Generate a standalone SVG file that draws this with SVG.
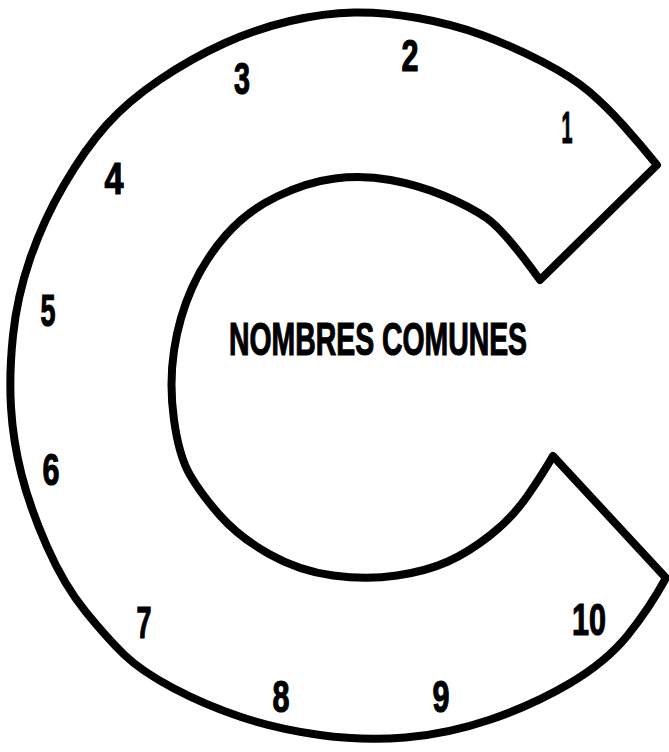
<svg xmlns="http://www.w3.org/2000/svg" width="669" height="752" viewBox="0 0 669 752">
<style>
.c{fill:#fff;stroke:#000;stroke-width:8;stroke-linejoin:round;stroke-linecap:round}
.n{font-family:"Liberation Sans",Arial,sans-serif;font-weight:bold;font-size:44px;fill:#000;stroke:#000;stroke-width:1.2;text-anchor:middle}
.t{font-family:"Liberation Sans",Arial,sans-serif;font-weight:bold;font-size:46px;fill:#000;stroke:#000;stroke-width:1.2}
</style>
<rect width="669" height="752" fill="#fff"/>
<g id="letter-c">
<path class="c" d="M657,165 Q640,144 623,125 Q606,106 589,91.5 Q572,77 542,61.5 Q512,46 482,35 Q452,24 418,18 Q384,12 354,12.5 Q324,13 290,21 Q256,29 224,43.5 Q192,58 160,79.5 Q128,101 106.5,125 Q85,149 64,185 Q43,221 30,259 Q17,297 13,335.5 Q9,374 11,407.5 Q13,441 21.5,474.5 Q30,508 47,546.5 Q64,585 85.5,611.5 Q107,638 124,654.5 Q141,671 173,688 Q205,705 241,717 Q277,729 320,735 Q363,741 405.5,737.5 Q448,734 490.5,719.5 Q533,705 569.5,683.5 Q606,662 627.5,635.5 Q649,609 666,578 L553,456 Q542,475 527,496.5 Q512,518 490.5,535 Q469,552 448,561.5 Q427,571 397,575.5 Q367,580 333,575.5 Q299,571 269,554 Q239,537 220,515.5 Q201,494 190,475 Q179,456 174,420 Q169,384 174,350.5 Q179,317 192,288 Q205,259 226,235 Q247,211 277,196.5 Q307,182 335,178.5 Q363,175 390.5,180 Q418,185 443.5,195.5 Q469,206 486.5,218 Q504,230 540,280 Z"/>
</g>
<g id="title">
<text class="t" x="229" y="355" textLength="298" lengthAdjust="spacingAndGlyphs">NOMBRES COMUNES</text>
</g>
<g id="numbers">
<text class="n" x="567" y="143" textLength="11" lengthAdjust="spacingAndGlyphs">1</text>
<text class="n" x="410" y="71" textLength="17" lengthAdjust="spacingAndGlyphs">2</text>
<text class="n" x="242" y="94" textLength="16" lengthAdjust="spacingAndGlyphs">3</text>
<text class="n" x="114" y="194" textLength="19" lengthAdjust="spacingAndGlyphs">4</text>
<text class="n" x="48" y="326" textLength="15" lengthAdjust="spacingAndGlyphs">5</text>
<text class="n" x="51" y="485" textLength="17" lengthAdjust="spacingAndGlyphs">6</text>
<text class="n" x="144" y="638" textLength="15" lengthAdjust="spacingAndGlyphs">7</text>
<text class="n" x="281" y="712" textLength="17" lengthAdjust="spacingAndGlyphs">8</text>
<text class="n" x="441" y="712" textLength="17" lengthAdjust="spacingAndGlyphs">9</text>
<text class="n" x="589" y="635" textLength="34" lengthAdjust="spacingAndGlyphs">10</text>
</g>
</svg>
